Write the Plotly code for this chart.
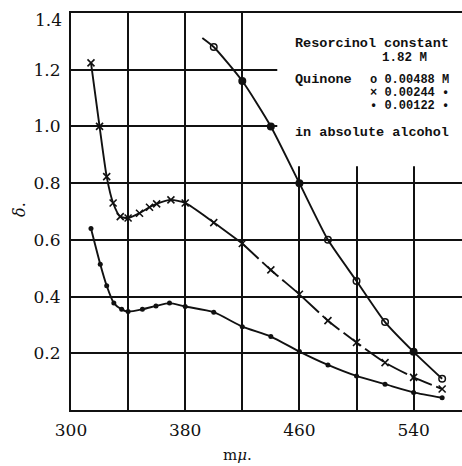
import plotly.graph_objects as go

# Absorption of quinone + resorcinol (1.82 M) in absolute alcohol
# wavelength in m-mu, delta = optical density

# Quinone 0.00488 M
wl_488 = [400, 420, 440, 460, 480, 500, 520, 540, 560]
d_488 = [1.28, 1.16, 1.00, 0.80, 0.60, 0.455, 0.31, 0.205, 0.11]
# the drawn curve starts a little before the first measurement
wl_488_curve = [392] + wl_488
d_488_curve = [1.312] + d_488

# Quinone 0.00244 M
wl_244 = [314, 320, 325, 329.5, 334.5, 340, 348, 355, 360, 370, 380, 400,
          420, 440, 460, 480, 500, 520, 540, 560]
d_244 = [1.224, 1.00, 0.823, 0.73, 0.682, 0.677, 0.694, 0.715, 0.727, 0.741,
         0.73, 0.661, 0.587, 0.494, 0.408, 0.315, 0.238, 0.167, 0.115, 0.074]

# Quinone 0.00122 M
wl_122 = [314, 320.5, 325, 330, 335.5, 340, 350, 359.5, 369, 380, 400, 420,
          440, 460, 480, 500, 520, 540, 560]
d_122 = [0.64, 0.514, 0.438, 0.377, 0.355, 0.347, 0.355, 0.367, 0.377, 0.365,
         0.345, 0.294, 0.259, 0.206, 0.159, 0.12, 0.091, 0.062, 0.043]

x_ticks = [300, 340, 380, 420, 460, 500, 540]
x_labels = ["300", "", "380", "", "460", "", "540"]
y_ticks = [0, 0.2, 0.4, 0.6, 0.8, 1.0, 1.2, 1.4]
y_labels = ["", "0.2", "0.4", "0.6", "0.8", "1.0", "1.2", ""]
y_top_label = "1.4"

# key text: (text, left px, centre px, font size)
legend_lines = [
    ("Resorcinol constant", 293, 43, 13.5),
    ("1.82 M", 380, 58, 12.5),
    ("Quinone", 293, 80, 13.5),
    ("o 0.00488 M", 368, 80, 12),
    ("× 0.00244 •", 368, 93, 12),
    ("• 0.00122 •", 368, 106, 12),
    ("in absolute alcohol", 293, 132, 13.5),
]

INK = "#111111"
W, H = 462, 466
L, R, T, B = 71, 0, 13, 56
PW, PH = W - L - R, H - T - B
X0, X1 = 300, 300 + PW / 1.4275

fig = go.Figure()

# 0.00488 M : solid curve with circles
fig.add_trace(go.Scatter(x=wl_488_curve, y=d_488_curve, mode="lines",
                         line=dict(color=INK, width=1.9, shape="spline", smoothing=0.6),
                         hoverinfo="skip"))
sym_488 = ["circle-open", "circle", "circle", "circle", "circle-open",
           "circle-open", "circle-open", "circle", "circle-open"]
fig.add_trace(go.Scatter(x=wl_488, y=d_488, mode="markers",
                         marker=dict(symbol=sym_488, size=6.5, color=INK,
                                     line=dict(color=INK, width=1.5))))

# 0.00244 M : solid in the UV part, long dashes past 420
k = wl_244.index(420)
fig.add_trace(go.Scatter(x=wl_244[:k + 1], y=d_244[:k + 1], mode="lines",
                         line=dict(color=INK, width=1.9, shape="spline", smoothing=0.6)))
fig.add_trace(go.Scatter(x=wl_244[k:], y=d_244[k:], mode="lines",
                         line=dict(color=INK, width=1.9, shape="spline", smoothing=0.6,
                                   dash="22px,5px")))
fig.add_trace(go.Scatter(x=wl_244, y=d_244, mode="markers",
                         marker=dict(symbol="x-thin-open", size=7, color=INK,
                                     line=dict(color=INK, width=1.6))))

# 0.00122 M : solid curve with dots
fig.add_trace(go.Scatter(x=wl_122, y=d_122, mode="lines+markers",
                         line=dict(color=INK, width=1.9, shape="spline", smoothing=0.6),
                         marker=dict(symbol="circle", size=5, color=INK)))

# white panel behind the key text (hides the grid there)
fig.add_shape(type="rect", xref="x", yref="y", x0=444.5, x1=X1 + 5, y0=0.86, y1=1.4,
              fillcolor="white", line=dict(width=0), layer="between")

ann = []
for txt, px, py, fs in legend_lines:
    ann.append(dict(text=txt, xref="paper", yref="paper",
                    x=(px - L) / PW, y=(H - B - py) / PH, xanchor="left", yanchor="middle",
                    showarrow=False,
                    font=dict(family="Liberation Mono", size=fs, color=INK, weight="bold")))
ann.append(dict(text=y_top_label, xref="paper", yref="y", x=0, y=1.4, xanchor="right",
                yanchor="middle", xshift=-7, yshift=-7, showarrow=False,
                font=dict(family="DejaVu Serif", size=17, color=INK)))
ann.append(dict(text="m<i>μ</i>.", xref="paper", yref="paper", x=(237 - L) / PW, y=0,
                yshift=-45, xanchor="center", yanchor="middle", showarrow=False,
                font=dict(family="DejaVu Serif", size=15, color=INK)))
ann.append(dict(text="<i>δ</i>.", xref="paper", yref="paper", x=0, xshift=-52,
                y=(H - B - 210) / PH, textangle=-90, xanchor="center", yanchor="middle",
                showarrow=False, font=dict(family="DejaVu Serif", size=16, color=INK)))

fig.update_layout(
    width=W, height=H, margin=dict(l=L, r=R, t=T, b=B, pad=0),
    paper_bgcolor="white", plot_bgcolor="white", showlegend=False,
    annotations=ann,
    xaxis=dict(range=[X0, X1], tickvals=x_ticks, ticktext=x_labels,
               showgrid=True, gridcolor=INK, gridwidth=1.5, zeroline=False,
               showline=True, linecolor=INK, linewidth=2, mirror=True,
               ticks="", ticklabelstandoff=4,
               tickfont=dict(family="DejaVu Serif", size=17, color=INK)),
    yaxis=dict(range=[0, 1.4], tickvals=y_ticks, ticktext=y_labels,
               showgrid=True, gridcolor=INK, gridwidth=1.5, zeroline=False,
               showline=True, linecolor=INK, linewidth=2, mirror=False,
               ticks="", ticklabelstandoff=5,
               tickfont=dict(family="DejaVu Serif", size=17, color=INK)),
)

fig.write_html("out.html")
